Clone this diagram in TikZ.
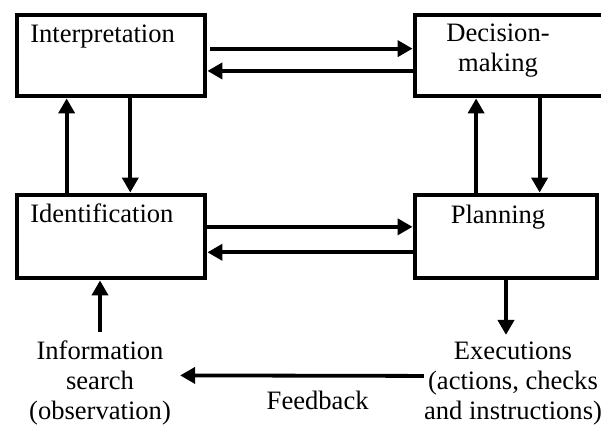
\documentclass[tikz,border=0pt]{standalone}
\usepackage{fontspec}
\setmainfont{Liberation Serif}
\usetikzlibrary{arrows.meta,calc}

\begin{document}
\begin{tikzpicture}[x=0.025cm,y=-0.025cm,
	stage/.style={draw,line width=0.12cm,inner sep=0pt},
	tag/.style={font=\fontsize{18.9}{21.4}\selectfont,inner sep=0pt,align=center},
	flow/.style={line width=0.095cm,-{Triangle[length=0.375cm,width=0.4cm]}}]
	\useasboundingbox (0,0) rectangle (601,426);
	% the four stages
	\node[stage,minimum width=4.7cm,minimum height=2.025cm] (int) at (111,55.5) {};
	\node[stage,minimum width=5.625cm,minimum height=2.025cm] (dec) at (527.5,55.5) {};
	\node[stage,minimum width=4.7cm,minimum height=2.075cm] (ident) at (111,236.5) {};
	\node[stage,minimum width=4.55cm,minimum height=2.075cm] (plan) at (506,236.5) {};
	\node[tag,anchor=base west] (intlab) at (30,43) {Interpretation};
	\node[tag,anchor=base] (declab) at (498,72) {Decision-\\making};
	\node[tag,anchor=base west] (identlab) at (30,223) {Identification};
	\node[tag,anchor=base] (planlab) at (498,224) {Planning};
	% start and end of the loop
	\node[tag,anchor=base] (info) at (100,420) {Information\\search\\(observation)};
	\node[tag,anchor=base] (exec) at (513,420) {Executions\\(actions, checks\\and instructions)};
	% top row
	\draw[flow,shorten <=0.075cm] ($(int.north east)!0.42!(int.south east)$) -- ($(dec.north west)!0.42!(dec.south west)$);
	\draw[flow] ($(dec.north west)!0.68!(dec.south west)$) -- ($(int.north east)!0.68!(int.south east)$);
	% middle row
	\draw[flow] ($(ident.north east)!0.39!(ident.south east)$) -- ($(plan.north west)!0.39!(plan.south west)$);
	\draw[flow] ($(plan.north west)!0.68!(plan.south west)$) -- ($(ident.north east)!0.68!(ident.south east)$);
	% left column
	\draw[flow] ($(ident.north west)!0.27!(ident.north east)$) -- ($(int.south west)!0.27!(int.south east)$);
	\draw[flow] ($(int.south west)!0.6!(int.south east)$) -- ($(ident.north west)!0.6!(ident.north east)$);
	% right column
	\coordinate (pu) at ($(plan.north west)!0.34!(plan.north east)$);
	\coordinate (pd) at ($(plan.north west)!0.68!(plan.north east)$);
	\draw[flow] (pu) -- (pu |- dec.south);
	\draw[flow] (pd |- dec.south) -- (pd);
	% bottom
	\draw[flow,shorten <=0.225cm] (info.north) -- (info.north |- ident.south);
	\draw[flow,shorten >=0.175cm] (plan.south) -- (plan.south |- exec.north);
	\draw[flow,shorten >=0.225cm] ([yshift=0.2cm]exec.west) -- ([yshift=0.2cm]info.east)
		node[tag,pos=0.42,below=0.325cm] (fb) {Feedback};
\end{tikzpicture}
\end{document}
